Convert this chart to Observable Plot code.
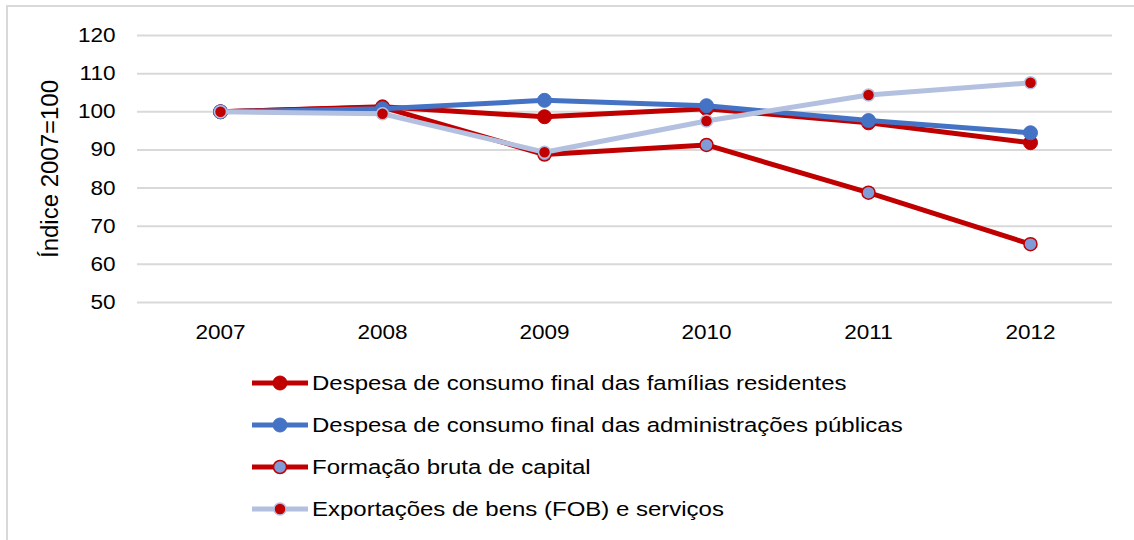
<!DOCTYPE html>
<html>
<head>
<meta charset="utf-8">
<script src="https://cdn.jsdelivr.net/npm/d3@7"></script>
<script src="https://cdn.jsdelivr.net/npm/@observablehq/plot@0.6"></script>
<style>
  html, body { margin: 0; padding: 0; background: #fff; }
  body { width: 1134px; height: 540px; overflow: hidden; position: relative; font-family: "Liberation Sans", Arial, sans-serif; }
  #frame { position: absolute; left: 6px; top: 5px; width: 1200px; height: 600px; border-top: 2px solid #d9d9d9; border-left: 2px solid #d9d9d9; }
  #chart { position: absolute; left: 0; top: 0; }
  #legend { position: absolute; left: 252px; top: 362px; }
  .item { display: flex; align-items: center; height: 42px; font-size: 20.5px; color: #000; white-space: nowrap; }
  .item svg { margin-right: 4px; flex: none; }
  .item span { display: inline-block; transform: scaleX(1.17); transform-origin: left center; }
</style>
</head>
<body>
<div id="frame"></div>
<div id="chart"></div>
<div id="legend"></div>
<script>
const years = ["2007", "2008", "2009", "2010", "2011", "2012"];
const familias = [100, 101.3, 98.7, 100.8, 97.1, 91.9];
const administracoes = [100, 100.8, 103.0, 101.6, 97.7, 94.5];
const formacao = [100, 101.2, 88.8, 91.3, 78.8, 65.3];
const exportacoes = [100, 99.5, 89.4, 97.6, 104.4, 107.6];
const seriesNames = [
  "Formação bruta de capital",
  "Despesa de consumo final das famílias residentes",
  "Despesa de consumo final das administrações públicas",
  "Exportações de bens (FOB) e serviços"
];
const yTicks = [50, 60, 70, 80, 90, 100, 110, 120];
const yTitle = "Índice 2007=100";

const styles = {
  "Despesa de consumo final das famílias residentes": {line: "#C00000", fill: "#C00000", stroke: "#C00000", r: 7, sw: 1},
  "Despesa de consumo final das administrações públicas": {line: "#4472C4", fill: "#4472C4", stroke: "#4472C4", r: 7, sw: 1},
  "Formação bruta de capital": {line: "#C00000", fill: "#7F9CD8", stroke: "#C00000", r: 6.5, sw: 1.5},
  "Exportações de bens (FOB) e serviços": {line: "#B4C0E0", fill: "#C00000", stroke: "#B4C0E0", r: 6, sw: 1.5}
};

const valuesBySeries = {
  "Despesa de consumo final das famílias residentes": familias,
  "Despesa de consumo final das administrações públicas": administracoes,
  "Formação bruta de capital": formacao,
  "Exportações de bens (FOB) e serviços": exportacoes
};

const marks = [
  Plot.gridY(yTicks, {stroke: "#d9d9d9", strokeOpacity: 1, strokeWidth: 2})
];
for (const name of seriesNames) {
  const s = styles[name];
  const data = years.map((y, i) => ({year: y, value: valuesBySeries[name][i]}));
  marks.push(Plot.line(data, {x: "year", y: "value", stroke: s.line, strokeWidth: 5}));
  marks.push(Plot.dot(data, {x: "year", y: "value", r: s.r, fill: s.fill, stroke: s.stroke, strokeWidth: s.sw}));
}
marks.push(Plot.axisY(yTicks, {tickSize: 0, tickPadding: 22, fontSize: 20.5, label: null, className: "stretch"}));
marks.push(Plot.axisX({tickSize: 0, tickPadding: 22, fontSize: 20.5, label: null, className: "stretch"}));
marks.push(Plot.text([yTitle], {frameAnchor: "left", dx: -87, rotate: -90, textAnchor: "middle", lineAnchor: "middle", fontSize: 20.5, fill: "#000", className: "ytitle"}));

const chart = Plot.plot({
  width: 1134,
  height: 350,
  marginTop: 35,
  marginBottom: 48,
  marginLeft: 137,
  marginRight: 22,
  style: {fontFamily: "'Liberation Sans', Arial, sans-serif", color: "#000", background: "transparent"},
  x: {type: "point", domain: years, padding: 0.5},
  y: {domain: [50, 120]},
  marks
});
// horizontal stretch of the text, as in the reference rendering
chart.querySelectorAll(".stretch text").forEach(t => {
  const tr = t.getAttribute("transform") || "";
  t.setAttribute("transform", tr + " scale(1.1,1)");
});
chart.querySelectorAll(".ytitle text").forEach(t => {
  const tr = t.getAttribute("transform") || "";
  t.setAttribute("transform", tr + " scale(1.17,1.15)");
});
document.getElementById("chart").appendChild(chart);

const legendOrder = [
  "Despesa de consumo final das famílias residentes",
  "Despesa de consumo final das administrações públicas",
  "Formação bruta de capital",
  "Exportações de bens (FOB) e serviços"
];
const legend = document.getElementById("legend");
for (const name of legendOrder) {
  const s = styles[name];
  const div = document.createElement("div");
  div.className = "item";
  div.innerHTML = `<svg width="56" height="20"><line x1="0" y1="10" x2="56" y2="10" stroke="${s.line}" stroke-width="5"/><circle cx="28" cy="10" r="${s.r}" fill="${s.fill}" stroke="${s.stroke}" stroke-width="${s.sw}"/></svg><span>${name}</span>`;
  legend.appendChild(div);
}
</script>
</body>
</html>
